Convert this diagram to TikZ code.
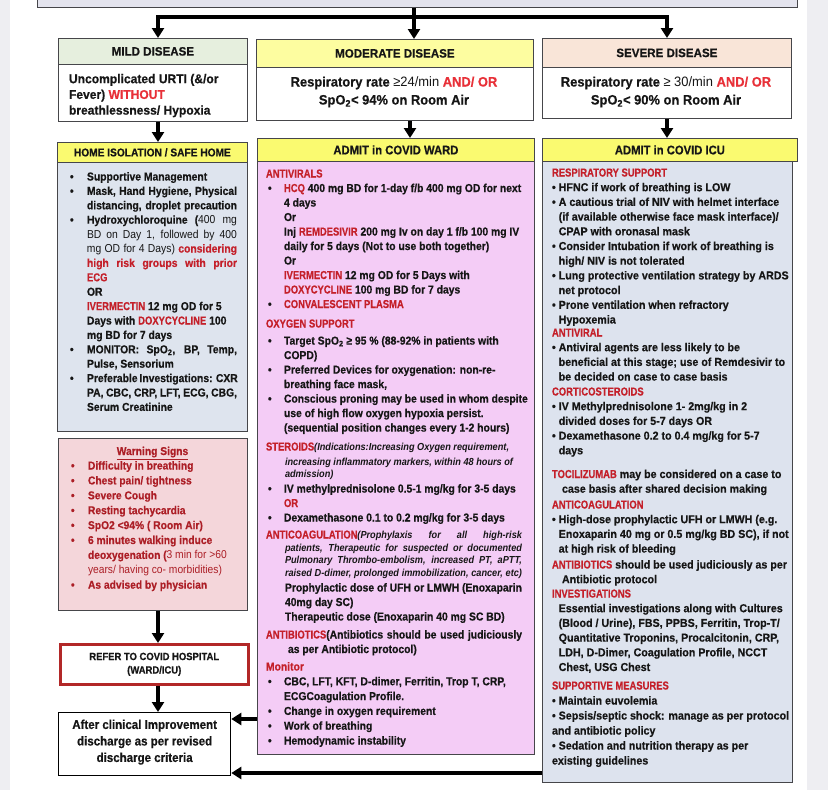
\documentclass[tikz,border=0pt]{standalone}
\usepackage{fontspec}
\setmainfont{Liberation Sans}[FakeStretch=0.9, BoldFeatures={FakeBold=0.5}]
\newfontfamily\topfont{Liberation Sans}[FakeStretch=0.95, BoldFeatures={FakeBold=0.5}]
\newfontfamily\icufont{Liberation Sans}[FakeStretch=0.93, BoldFeatures={FakeBold=0.5}]
\newfontfamily\capsfont{Liberation Sans}[FakeStretch=0.82, BoldFeatures={FakeBold=0.5}]
\usetikzlibrary{arrows.meta}
\definecolor{dred}{RGB}{196,32,42}
\definecolor{bred}{RGB}{232,48,56}
\definecolor{wred}{RGB}{172,30,38}
\definecolor{tblack}{RGB}{22,22,22}
\definecolor{bgray}{RGB}{70,70,74}
\definecolor{topfill}{RGB}{228,228,238}
\definecolor{mildg}{RGB}{230,239,222}
\definecolor{modyel}{RGB}{253,253,160}
\definecolor{sevp}{RGB}{249,229,216}
\definecolor{hdry}{RGB}{250,250,112}
\definecolor{homeb}{RGB}{222,228,238}
\definecolor{warnp}{RGB}{244,214,218}
\definecolor{wardp}{RGB}{244,204,246}
\definecolor{icub}{RGB}{221,227,238}
\definecolor{referred}{RGB}{178,40,40}
\definecolor{pageg}{RGB}{238,238,242}
\newcommand{\cRed}[1]{\textcolor{dred}{\capsfont #1}}
\newcommand{\cRedm}[1]{\textcolor{dred}{#1}}
\newcommand{\cBr}[1]{\textcolor{bred}{#1}}
\newcommand{\jline}[2]{\makebox[#1][s]{#2}}
\newcommand{\fstr}{\vrule height 9pt depth 0pt width 0pt}
\newcommand{\fstrs}{\vrule height 8pt depth 0pt width 0pt}
\newcommand{\fstrb}{\vrule height 10.5pt depth 0pt width 0pt}
\newcommand{\hbul}{\makebox[17pt][l]{•}}
\newcommand{\hind}{\hspace*{17pt}}
\newcommand{\wbul}{\makebox[18pt][l]{\hspace{2pt}•}}
\newcommand{\wind}{\hspace*{18pt}}
\newcommand{\ibul}{•\ }
\newcommand{\iind}{\hphantom{•\ }}
\newcommand{\regw}[1]{{\mdseries #1}}
\begin{document}
\begin{tikzpicture}[x=1pt,y=-1pt,
  box/.style={draw=bgray, line width=0.8pt, inner sep=0pt, anchor=north west, text=tblack},
  dhdr/.style={font=\topfont\fontsize{12.2}{14}\selectfont\bfseries},
  ahdr/.style={font=\fontsize{12.5}{14}\selectfont\bfseries},
  txt/.style={anchor=north west, inner sep=0pt, outer sep=0pt, align=left, text=tblack,
    font=\fontsize{11.5}{14.4}\selectfont\bfseries},
  wtxt/.style={txt, font=\fontsize{11.5}{14.5}\selectfont\bfseries},
  itxt/.style={txt, font=\fontsize{10.2}{12.2}\selectfont\bfseries\itshape},
  icut/.style={txt, font=\icufont\fontsize{11.5}{14.7}\selectfont\bfseries},
  arr/.style={draw=black, line width=3.2pt, -{Triangle[length=10pt,width=12pt]}}]
\useasboundingbox (0,0) rectangle (828,790);
\fill[pageg] (0,0) rectangle (828,790);
\fill[white] (10,0) rectangle (807,790);

% boxes
\node[box, fill=topfill, minimum width=760pt, minimum height=20pt] (top) at (37,-13) {};
\node[box, dhdr, fill=mildg, minimum width=189pt, minimum height=26pt] (mildhead) at (58,38) {MILD DISEASE};
\node[box, fill=white, minimum width=189pt, minimum height=57pt] (mildbody) at (58,64) {};
\node[box, dhdr, fill=modyel, minimum width=277pt, minimum height=28pt] (modhead) at (256,39) {MODERATE DISEASE};
\node[box, fill=white, minimum width=277pt, minimum height=53pt] (modbody) at (256,67) {};
\node[box, dhdr, fill=sevp, minimum width=249pt, minimum height=29pt] (sevhead) at (542,38) {SEVERE DISEASE};
\node[box, fill=white, minimum width=249pt, minimum height=51pt] (sevbody) at (542,67) {};

\node[box, fill=hdry, minimum width=190pt, minimum height=20pt, font=\fontsize{11.3}{13}\selectfont\bfseries] (homehead) at (57,142) {HOME ISOLATION / SAFE HOME};
\node[box, fill=homeb, minimum width=190pt, minimum height=269pt] (home) at (57,162) {};
\node[box, fill=warnp, minimum width=189pt, minimum height=172pt] (warn) at (58,438) {};
\node[box, draw=referred, line width=2.5pt, fill=white, minimum width=188pt, minimum height=40pt] (refer) at (59,643) {};
\node[box, draw=black, line width=1.3pt, fill=white, minimum width=172pt, minimum height=63pt] (after) at (58,712) {};

\node[box, ahdr, fill=hdry, minimum width=277pt, minimum height=23pt] (wardhead) at (257,138) {ADMIT in COVID WARD};
\node[box, fill=wardp, minimum width=277pt, minimum height=593pt] (ward) at (257,161) {};
\node[box, ahdr, fill=hdry, minimum width=255pt, minimum height=23pt] (icuhead) at (542,138) {ADMIT in COVID ICU};
\node[box, fill=icub, minimum width=250pt, minimum height=621pt] (icu) at (542,161) {};

% disease texts
\node[txt, font=\topfont\fontsize{12.7}{15.7}\selectfont\bfseries] (mildt) at (69,72.7)
 {\fstrb Uncomplicated URTI (\&/or\\ Fever) \cBr{WITHOUT}\\ breathlessness/ Hypoxia};
\node[txt, anchor=north, align=center, font=\topfont\fontsize{13.6}{18}\selectfont\bfseries] (modt) at (394,76)
 {\fstrb Respiratory rate \regw{≥24/min} \cBr{AND/ OR}\\ SpO\textsubscript{2}< 94\% on Room Air};
\node[txt, anchor=north, align=center, font=\topfont\fontsize{13.6}{18}\selectfont\bfseries] (sevt) at (666,76)
 {\fstrb Respiratory rate \regw{≥ 30/min} \cBr{AND/ OR}\\ SpO\textsubscript{2}< 90\% on Room Air};

% home isolation
\node[txt] (homet) at (70,171.5) {\fstr\hbul Supportive Management\\
\hbul\jline{150pt}{Mask, Hand Hygiene, Physical}\\
\hind\jline{150pt}{distancing, droplet precaution}\\
\hbul\jline{150pt}{Hydroxychloroquine (\regw{400 mg}}\\
\hind\jline{150pt}{\regw{BD on Day 1, followed by 400}}\\
\hind\jline{150pt}{\regw{mg OD for 4 Days)} \cRedm{considering}}\\
\hind\jline{150pt}{\cRedm{high risk groups with prior}}\\
\hind\cRed{ECG}\\
\hind OR\\
\hind\cRed{IVERMECTIN} 12 mg OD for 5\\
\hind Days with \cRed{DOXYCYCLINE} 100\\
\hind mg BD for 7 days\\
\hbul\jline{150pt}{MONITOR: SpO\textsubscript{2}, BP, Temp,}\\
\hind Pulse, Sensorium\\
\hbul\jline{150pt}{Preferable Investigations: CXR}\\
\hind\jline{150pt}{PA, CBC, CRP, LFT, ECG, CBG,}\\
\hind Serum Creatinine};

% warning signs
\node[inner sep=0pt, anchor=base, text=wred, font=\fontsize{11.4}{13}\selectfont\bfseries] (wtitle) at (152.5,455) {\underline{Warning Signs}};
\node[txt, text=wred, font=\fontsize{11.4}{14.9}\selectfont\bfseries] (warnt) at (71,460.5) {\fstr\hbul Difficulty in breathing\\
\hbul Chest pain/ tightness\\
\hbul Severe Cough\\
\hbul Resting tachycardia\\
\hbul SpO2 <94\% ( Room Air)\\
\hbul 6 minutes walking induce\\
\hind deoxygenation (\regw{3 min for >60}\\
\hind\regw{years/ having co- morbidities)}\\
\hbul As advised by physician};

\node[inner sep=0pt, align=center, text=tblack, font=\fontsize{10.5}{13.5}\selectfont\bfseries] (refert) at (refer.center) {REFER TO COVID HOSPITAL\\(WARD/ICU)};
\node[inner sep=0pt, align=center, text=tblack, font=\fontsize{12.8}{16.5}\selectfont\bfseries] (aftert) at ([yshift=2pt]after.center) {After clinical Improvement\\discharge as per revised\\discharge criteria};

% ward
\node[wtxt] (w1) at (266,168.5) {\fstr\cRed{ANTIVIRALS}\\
\wbul\cRed{HCQ} 400 mg BD for 1-day f/b 400 mg OD for next\\
\wind 4 days\\
\wind Or\\
\wind Inj \cRed{REMDESIVIR} 200 mg Iv on day 1 f/b 100 mg IV\\
\wind daily for 5 days (Not to use both together)\\
\wind Or\\
\wind\cRed{IVERMECTIN} 12 mg OD for 5 Days with\\
\wind\cRed{DOXYCYCLINE} 100 mg BD for 7 days\\
\wbul\cRed{CONVALESCENT PLASMA}};
\node[wtxt] (w2) at (266,318.5) {\fstr\cRed{OXYGEN SUPPORT}\\[2.6pt]
\wbul Target SpO\textsubscript{2} ≥ 95 \% (88-92\% in patients with\\
\wind COPD)\\
\wbul Preferred Devices for oxygenation: non-re-\\
\wind breathing face mask,\\
\wbul Conscious proning may be used in whom despite\\
\wind use of high flow oxygen hypoxia persist.\\
\wind (sequential position changes every 1-2 hours)};
\node[wtxt] (w3a) at (266,441.5) {\fstr\cRed{STEROIDS}{\itshape\fontsize{10.2}{12}\selectfont(Indications:Increasing Oxygen requirement,}};
\node[itxt] (w3b) at (285,457) {\fstrs increasing inflammatory markers, within 48 hours of\\ admission)};
\node[wtxt] (w3c) at (266,483.5) {\fstr\wbul IV methylprednisolone 0.5-1 mg/kg for 3-5 days\\
\wind\cRed{OR}\\
\wbul Dexamethasone 0.1 to 0.2 mg/kg for 3-5 days};
\node[wtxt] (w4a) at (266,529.5) {\fstr\jline{256pt}{\cRed{ANTICOAGULATION}{\itshape\fontsize{10.2}{12}\selectfont(Prophylaxis for all high-risk}}};
\node[itxt, font=\fontsize{10.2}{12.5}\selectfont\bfseries\itshape] (w4b) at (285,543) {\fstrs\jline{237pt}{patients, Therapeutic for suspected or documented}\\
\jline{237pt}{Pulmonary Thrombo-embolism, increased PT, aPTT,}\\
\jline{237pt}{raised D-dimer, prolonged immobilization, cancer, etc)}};
\node[wtxt] (w4c) at (285,582.5) {\fstr Prophylactic dose of UFH or LMWH (Enoxaparin\\
40mg day SC)\\
Therapeutic dose (Enoxaparin 40 mg SC BD)};
\node[wtxt] (w5) at (266,629.5) {\fstr\jline{256pt}{\cRed{ANTIBIOTICS}(Antibiotics should be used judiciously}\\
\hspace*{22pt}as per Antibiotic protocol)};
\node[wtxt, font=\fontsize{11.5}{14.8}\selectfont\bfseries] (w6) at (266,661.5) {\fstr\cRedm{Monitor}\\
\wbul CBC, LFT, KFT, D-dimer, Ferritin, Trop T, CRP,\\
\wind ECGCoagulation Profile.\\
\wbul Change in oxygen requirement\\
\wbul Work of breathing\\
\wbul Hemodynamic instability};

% ICU
\node[icut] (i1) at (552,167.5) {\fstr\cRed{RESPIRATORY SUPPORT}\\
\ibul HFNC if work of breathing is LOW\\
\ibul A cautious trial of NIV with helmet interface\\
\iind (if available otherwise face mask interface)/\\
\iind CPAP with oronasal mask\\
\ibul Consider Intubation if work of breathing is\\
\iind high/ NIV is not tolerated\\
\ibul Lung protective ventilation strategy by ARDS\\
\iind net protocol\\
\ibul Prone ventilation when refractory\\
\iind Hypoxemia};
\node[icut] (i2) at (552,327.5) {\fstr\cRed{ANTIVIRAL}\\
\ibul Antiviral agents are less likely to be\\
\iind beneficial at this stage; use of Remdesivir to\\
\iind be decided on case to case basis};
\node[icut] (i3) at (552,386.5) {\fstr\cRed{CORTICOSTEROIDS}\\
\ibul IV Methylprednisolone 1- 2mg/kg in 2\\
\iind divided doses for 5-7 days OR\\
\ibul Dexamethasone 0.2 to 0.4 mg/kg for 5-7\\
\iind days};
\node[icut] (i4) at (552,469) {\fstr\cRed{TOCILIZUMAB} may be considered on a case to\\
\hspace*{10pt}case basis after shared decision making};
\node[icut] (i5) at (552,499.5) {\fstr\cRed{ANTICOAGULATION}\\
\ibul High-dose prophylactic UFH or LMWH (e.g.\\
\iind Enoxaparin 40 mg or 0.5 mg/kg BD SC), if not\\
\iind at high risk of bleeding};
\node[icut] (i6) at (552,559.5) {\fstr\cRed{ANTIBIOTICS} should be used judiciously as per\\
\hspace*{10pt}Antibiotic protocol};
\node[icut] (i7) at (552,588.5) {\fstr\cRed{INVESTIGATIONS}\\
\iind Essential investigations along with Cultures\\
\iind (Blood / Urine), FBS, PPBS, Ferritin, Trop-T/\\
\iind Quantitative Troponins, Procalcitonin, CRP,\\
\iind LDH, D-Dimer, Coagulation Profile, NCCT\\
\iind Chest, USG Chest};
\node[icut, font=\icufont\fontsize{11.5}{15}\selectfont\bfseries] (i8) at (552,680.5) {\fstr\cRed{SUPPORTIVE MEASURES}\\
\ibul Maintain euvolemia\\
\ibul Sepsis/septic shock: manage as per protocol\\
and antibiotic policy\\
\ibul Sedation and nutrition therapy as per\\
existing guidelines};

% connectors
\coordinate (jl) at (158,17);
\coordinate (jm) at (414,17);
\coordinate (jr) at (667,17);
\coordinate (xm) at (410,0);
\coordinate (ya) at (0,719);
\coordinate (yb) at (0,773);
\draw[arr] (top.south -| jm) -- (jm |- modhead.north);
\draw[arr] (jm) -| (jl |- mildhead.north);
\draw[arr] (jm) -| (jr |- sevhead.north);
\draw[arr] (mildbody.south -| jl) -- (homehead.north -| jl);
\draw[arr] (modbody.south -| xm) -- (wardhead.north -| xm);
\draw[arr] (sevbody.south -| jr) -- (icuhead.north -| jr);
\draw[arr] (warn.south -| jl) -- (refer.north -| jl);
\draw[arr] (refer.south -| jl) -- (after.north -| jl);
\draw[arr] (ward.west |- ya) -- (after.east |- ya);
\draw[arr] (icu.west |- yb) -- (after.east |- yb);
\end{tikzpicture}
\end{document}
